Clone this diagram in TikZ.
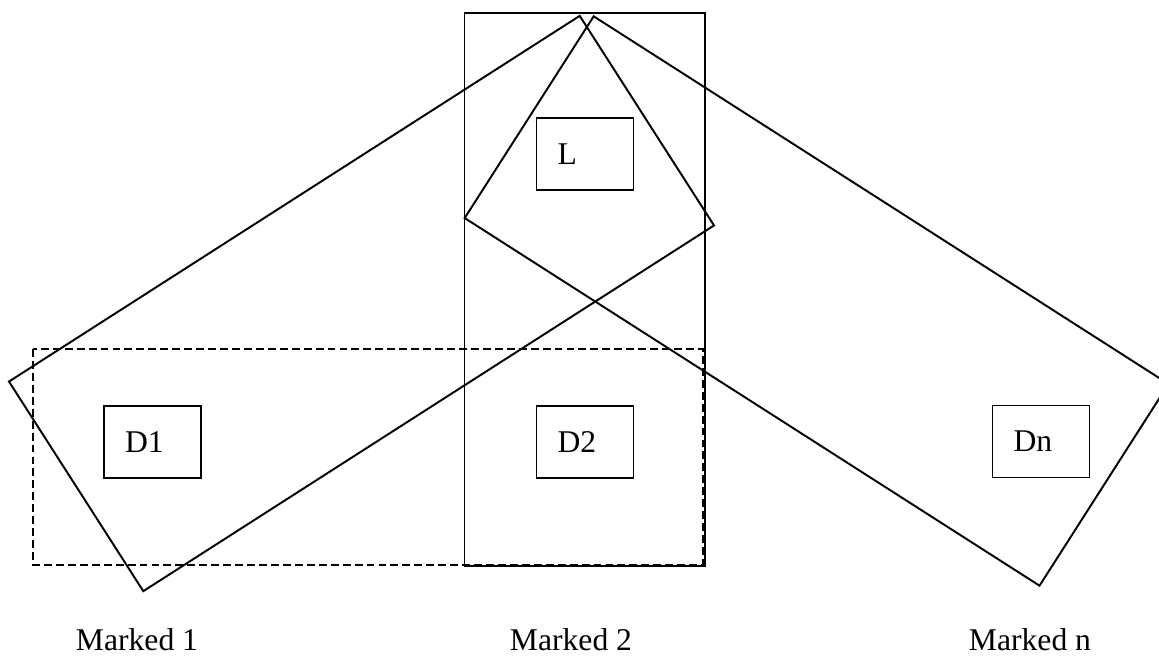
\documentclass[tikz,border=0pt]{standalone}
\usepackage{fontspec}
\setmainfont{Liberation Serif}
\begin{document}
\begin{tikzpicture}[x=0.02cm, y=-0.02cm, line width=1.1pt, box/.style={draw, minimum width=1.94cm, minimum height=1.44cm, text width=1.1cm, inner xsep=0.42cm, align=left, font=\fontsize{18}{22}\selectfont}, band/.style={draw, inner sep=0pt}, caption/.style={anchor=base, inner sep=0pt, font=\fontsize{18}{22}\selectfont}]
\useasboundingbox (0,0) rectangle (1159,656);
\clip (0,0) rectangle (1159,656);
% bands: tilted ones to both sides, upright one in the middle
\node[band, minimum width=13.56cm, minimum height=4.98cm, rotate=32.65] (band1) at (361.5,303.5) {};
\node[band, minimum width=13.65cm, minimum height=4.79cm, rotate=-32.6] (bandn) at (816.6,301) {};
\node[band, minimum width=4.81cm, minimum height=11.06cm] (band2) at (584.75,289.5) {};
% dashed region round D1 and D2
\draw[dash pattern=on 4.5pt off 2.3pt] (33,349) rectangle (703,565);
\node[box] (lbox) at (585,154) {L};
\node[box] (d1) at (152.5,442) {D1};
\node[box] (d2) at (585,442) {D2};
\node[box] (dn) at (1041,441.5) {Dn};
\node[caption] (m1) at (137,650) {Marked 1};
\node[caption] (m2) at (571,650) {Marked 2};
\node[caption] (mn) at (1030,650) {Marked n};
\end{tikzpicture}
\end{document}
